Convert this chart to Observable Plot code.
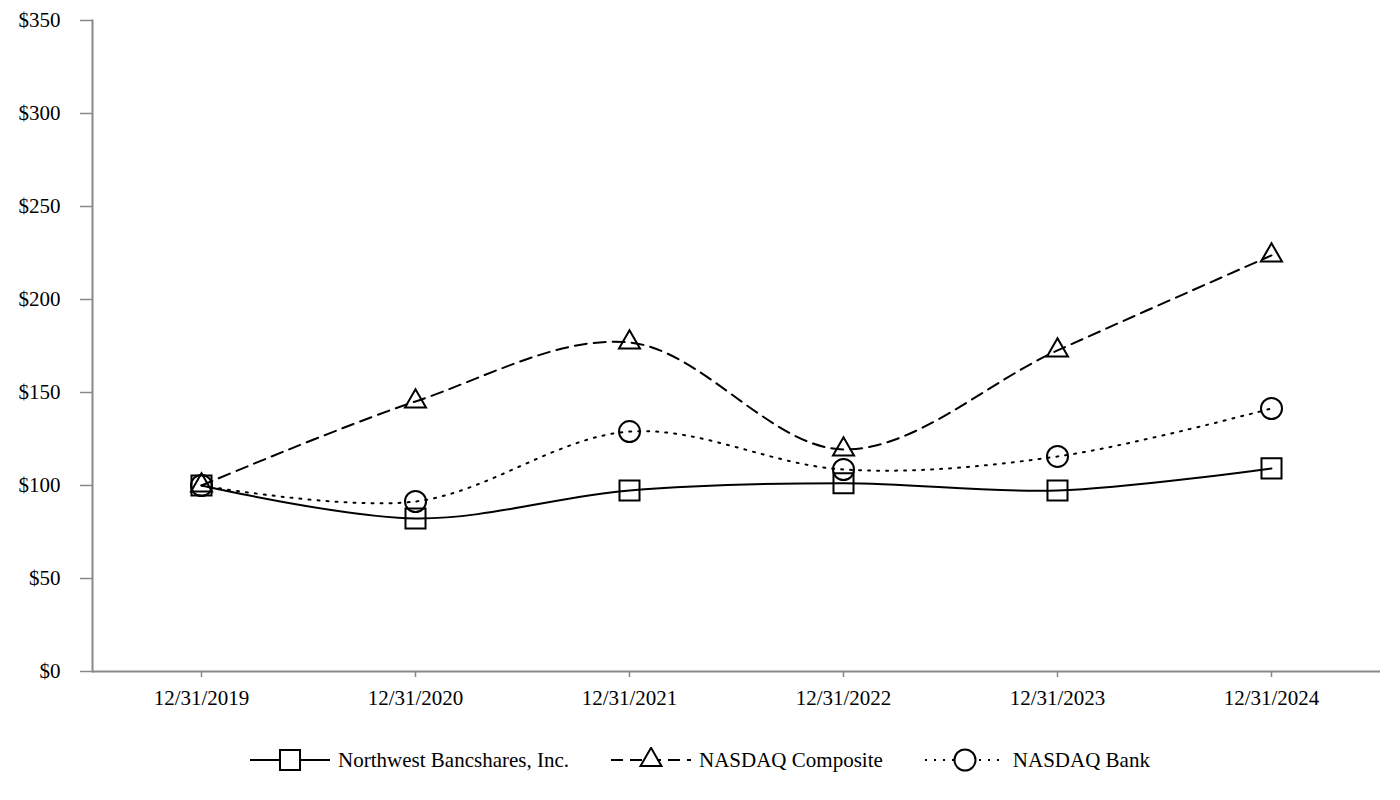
<!DOCTYPE html>
<html>
<head>
<meta charset="utf-8">
<script src="https://cdn.jsdelivr.net/npm/d3@7"></script>
<script src="https://cdn.jsdelivr.net/npm/@observablehq/plot@0.6"></script>
<style>
  body { margin: 0; background: #fff; font-family: "Liberation Serif", "Times New Roman", serif; }
  #legend { display: flex; justify-content: center; align-items: center; margin-top: 27px; font-size: 21px; color: #000; }
  .item { display: flex; align-items: center; margin: 0 21px; }
  .item svg { margin-right: 8px; }
</style>
</head>
<body>
<div id="chart"></div>
<div id="legend"></div>
<script>
const dates = ["12/31/2019", "12/31/2020", "12/31/2021", "12/31/2022", "12/31/2023", "12/31/2024"];
const northwest = [100, 82.3, 97.3, 101.2, 97.3, 109.2];
const nasdaqComposite = [100, 145.2, 176.9, 119.4, 172.6, 223.7];
const nasdaqBank = [100, 91.4, 129.0, 108.6, 115.6, 141.4];
const yTicks = [0, 50, 100, 150, 200, 250, 300, 350];

const seriesDefs = [
  {name: "Northwest Bancshares, Inc.", values: northwest, dash: null, symbol: "square", r: 11.3},
  {name: "NASDAQ Composite", values: nasdaqComposite, dash: "12,7", symbol: "triangle", r: 7.8},
  {name: "NASDAQ Bank", values: nasdaqBank, dash: "2,7", symbol: "circle", r: 10.5}
];
const tables = seriesDefs.map(s => s.values.map((v, i) => ({date: dates[i], value: v, series: s.name})));

const axisColor = "#888";
const marks = [
  Plot.ruleY([0], {stroke: axisColor, strokeWidth: 2}),
  Plot.axisY({ticks: yTicks, tickSize: 12, tickPadding: 20, stroke: axisColor, strokeWidth: 1.5,
    tickFormat: d => "$" + d, fill: "#000", fontSize: 21}),
  Plot.axisX({tickSize: 6, tickPadding: 13, stroke: axisColor, strokeWidth: 1.5, fill: "#000", fontSize: 21, label: null})
];
try { marks.push(Plot.frame({anchor: "left", stroke: axisColor, strokeWidth: 2})); } catch (e) {}
seriesDefs.forEach((s, k) => {
  marks.push(Plot.line(tables[k], {x: "date", y: "value", curve: "catmull-rom", stroke: "#000", strokeWidth: 2,
    strokeDasharray: s.dash}));
});
seriesDefs.forEach((s, k) => {
  marks.push(Plot.dot(tables[k], {x: "date", y: "value", symbol: () => s.symbol, r: s.r, stroke: "#000",
    strokeWidth: 2, fill: "none"}));
});

const chart = Plot.plot({
  width: 1400,
  height: 720,
  marginLeft: 92,
  marginRight: 20,
  marginTop: 20,
  marginBottom: 49,
  style: {fontFamily: "Liberation Serif, serif", fontSize: "21px", background: "#fff"},
  x: {type: "point", domain: dates, padding: 0.5, label: null},
  y: {domain: [0, 350], label: null},
  symbol: {domain: ["square", "triangle", "circle"], range: ["square", "triangle", "circle"]},
  marks
});
document.getElementById("chart").appendChild(chart);

// legend
const legend = d3.select("#legend");
seriesDefs.forEach(s => {
  const item = legend.append("div").attr("class", "item");
  const svg = item.append("svg").attr("width", 80).attr("height", 26);
  svg.append("line").attr("x1", 0).attr("x2", 80).attr("y1", 13).attr("y2", 13)
    .attr("stroke", "#000").attr("stroke-width", 2).attr("stroke-dasharray", s.dash);
  const sym = {square: d3.symbolSquare, triangle: d3.symbolTriangle, circle: d3.symbolCircle}[s.symbol];
  svg.append("path").attr("transform", "translate(40,13)")
    .attr("d", d3.symbol(sym, Math.PI * s.r * s.r)())
    .attr("fill", "#fff").attr("stroke", "#000").attr("stroke-width", 2);
  item.append("span").text(s.name);
});
</script>
</body>
</html>
